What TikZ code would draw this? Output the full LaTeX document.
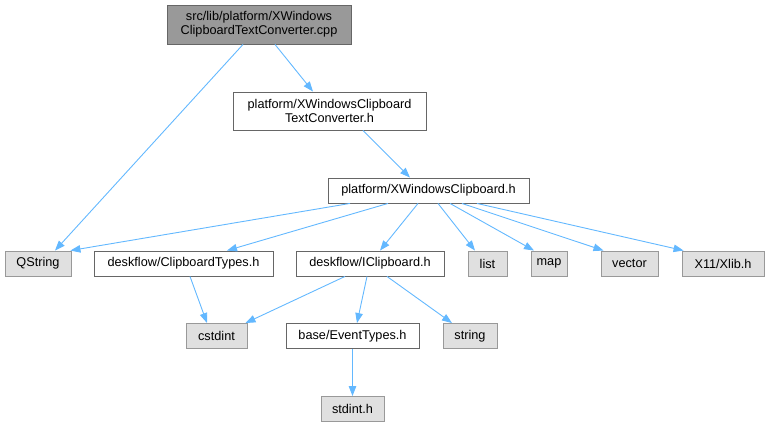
\documentclass[tikz,border=0pt]{standalone}
\usepackage{fontspec}
\setmainfont{Liberation Sans}
\usetikzlibrary{arrows.meta}
\definecolor{edgeblue}{HTML}{63B8FF}
\definecolor{boxborder}{HTML}{666666}
\definecolor{sysborder}{HTML}{999999}
\definecolor{sysfill}{HTML}{E0E0E0}
\definecolor{mainfill}{HTML}{999999}
\tikzset{
  base/.style={rectangle, draw, line width=0.9pt, inner sep=0pt, minimum height=25pt,
    font=\fontsize{12.7}{14}\selectfont, align=center, text=black},
  filebox/.style={base, draw=boxborder, fill=white},
  sysbox/.style={base, draw=sysborder, fill=sysfill},
  mainbox/.style={base, draw=boxborder, fill=mainfill},
  edge/.style={draw=edgeblue, line width=0.9pt, -{Triangle[length=10pt,width=7.5pt]}}
}
\begin{document}
\begin{tikzpicture}[x=1pt,y=-1pt]
\useasboundingbox (0,0) rectangle (769,427);
% nodes
\node[mainbox, minimum width=184pt, minimum height=39pt] (top) at (259,24.5) {src/lib/platform/XWindows\\ClipboardTextConverter.cpp};
\node[filebox, minimum width=193pt, minimum height=38pt] (b2) at (329.5,111) {platform/XWindowsClipboard\\TextConverter.h};
\node[filebox, minimum width=201pt] (b3) at (428.5,190.5) {platform/XWindowsClipboard.h};
\node[sysbox, minimum width=66pt] (qs) at (38,263.5) {QString};
\node[filebox, minimum width=179pt] (ct) at (183.5,263.5) {deskflow/ClipboardTypes.h};
\node[filebox, minimum width=148pt] (ic) at (370,263.5) {deskflow/IClipboard.h};
\node[sysbox, minimum width=39pt] (li) at (487.5,263.5) {list};
\node[sysbox, minimum width=36pt] (mp) at (549,263.5) {map};
\node[sysbox, minimum width=57pt] (ve) at (629.5,263.5) {vector};
\node[sysbox, minimum width=82pt] (xl) at (723,263.5) {X11/Xlib.h};
\node[sysbox, minimum width=61pt] (cs) at (216.5,336) {cstdint};
\node[filebox, minimum width=133pt] (ev) at (352.5,336) {base/EventTypes.h};
\node[sysbox, minimum width=54pt] (st) at (470,336) {string};
\node[sysbox, minimum width=63pt] (sd) at (352.5,409) {stdint.h};
% edges
\draw[edge] ([xshift=-16pt]top.south) -- ([xshift=17pt]qs.north);
\draw[edge] ([xshift=16pt]top.south) -- ([xshift=-16.5pt]b2.north);
\draw[edge] ([xshift=33.5pt]b2.south) -- ([xshift=-18.5pt]b3.north);
\draw[edge] ([xshift=-78.5pt]b3.south) -- ([xshift=-1pt]qs.north east);
\draw[edge] ([xshift=-40.5pt]b3.south) -- ([xshift=43.5pt]ct.north);
\draw[edge] ([xshift=-10.5pt]b3.south) -- ([xshift=10pt]ic.north);
\draw[edge] ([xshift=9.5pt]b3.south) -- ([xshift=-12.5pt]li.north);
\draw[edge] ([xshift=21.5pt]b3.south) -- ([xshift=-15pt]mp.north);
\draw[edge] ([xshift=33.5pt]b3.south) -- ([xshift=-26pt]ve.north);
\draw[edge] ([xshift=48.5pt]b3.south) -- ([xshift=2pt]xl.north west);
\draw[edge] ([xshift=6.5pt]ct.south) -- ([xshift=-9.5pt]cs.north);
\draw[edge] ([xshift=-25pt]ic.south) -- ([xshift=-2pt]cs.north east);
\draw[edge] ([xshift=-3pt]ic.south) -- ([xshift=4.5pt]ev.north);
\draw[edge] ([xshift=17pt]ic.south) -- ([xshift=-18pt]st.north);
\draw[edge] (ev.south) -- (sd.north);
\end{tikzpicture}
\end{document}
